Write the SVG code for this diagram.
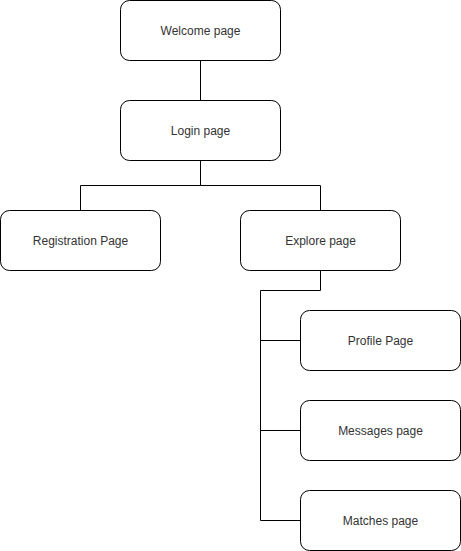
<svg xmlns="http://www.w3.org/2000/svg" width="461" height="551" viewBox="0 0 461 551">
<style>
.box{fill:#fff;stroke:#000;stroke-width:1}
.lbl{font-family:"Liberation Sans",Arial,sans-serif;font-size:12px;fill:#333;text-anchor:middle;dominant-baseline:central}
.edge{fill:none;stroke:#000;stroke-width:1}
</style>
<rect width="461" height="551" fill="#fff"/>
<g id="connectors">
<path class="edge" d="M200.5 60.5V100.5"/>
<path class="edge" d="M200.5 160.5V185.5H80.5V210.5"/>
<path class="edge" d="M200.5 185.5H320.5V210.5"/>
<path class="edge" d="M320.5 270.5V290.5H260.5V520.5H300.5"/>
<path class="edge" d="M260.5 340.5H300.5"/>
<path class="edge" d="M260.5 430.5H300.5"/>
</g>
<g id="welcome"><rect class="box" x="120.5" y="0.5" width="160" height="60" rx="9"/><text class="lbl" x="200.5" y="30.5">Welcome page</text></g>
<g id="login"><rect class="box" x="120.5" y="100.5" width="160" height="60" rx="9"/><text class="lbl" x="200.5" y="130.5">Login page</text></g>
<g id="registration"><rect class="box" x="0.5" y="210.5" width="160" height="60" rx="9"/><text class="lbl" x="80.5" y="240.5">Registration Page</text></g>
<g id="explore"><rect class="box" x="240.5" y="210.5" width="160" height="60" rx="9"/><text class="lbl" x="320.5" y="240.5">Explore page</text></g>
<g id="profile"><rect class="box" x="300.5" y="310.5" width="160" height="60" rx="9"/><text class="lbl" x="380.5" y="340.5">Profile Page</text></g>
<g id="messages"><rect class="box" x="300.5" y="400.5" width="160" height="60" rx="9"/><text class="lbl" x="380.5" y="430.5">Messages page</text></g>
<g id="matches"><rect class="box" x="300.5" y="490.5" width="160" height="60" rx="9"/><text class="lbl" x="380.5" y="520.5">Matches page</text></g>
</svg>
